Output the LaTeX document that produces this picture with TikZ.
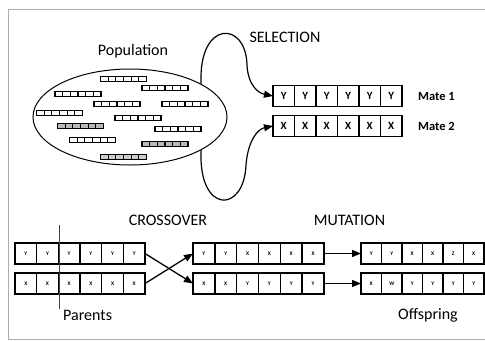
\documentclass[tikz,border=0pt]{standalone}
\usepackage{fontspec}
\setmainfont{Carlito}
\usetikzlibrary{arrows.meta,shapes.geometric}

% one row of gene cells: name, left x, centre y, cell width, cell style, letters
\newcommand\generow[6]{%
  \foreach \t [count=\i] in {#6} {%
    \node[#5, minimum width=#4pt, anchor=west] (#1-\i) at ({#2+(\i-1)*#4}, #3) {\t};
  }}

\begin{document}
\begin{tikzpicture}[x=1pt, y=-1pt,
    frame/.style={draw=gray!65, line width=1pt},
    label/.style={font=\fontsize{16}{18}\selectfont, inner sep=0},
    matelabel/.style={font=\fontsize{12.5}{14}\selectfont\bfseries, inner sep=0},
    cellbase/.style={draw, fill=white, line width=1.4pt, inner sep=0, outer sep=0, minimum height=21pt},
    bigcell/.style={cellbase, font=\fontsize{11}{11}\selectfont\bfseries},
    smallcell/.style={cellbase, font=\fontsize{5.5}{6}\selectfont\bfseries},
    gene/.style={draw, line width=1.7pt, fill=#1, minimum width=46pt, minimum height=5pt,
      inner sep=0, outer sep=0,
      path picture={\foreach \k in {1,...,5}{%
        \draw[line width=1.1pt] ([xshift=\k*7.667pt]path picture bounding box.south west)
          -- ([xshift=\k*7.667pt]path picture bounding box.north west);}}},
    gene/.default=white,
    conn/.style={line width=1.3pt, -{Triangle[length=9pt,width=7pt]}},
    loop/.style={line width=1.2pt, -{Triangle[length=9pt,width=7pt]}},
  ]
\useasboundingbox (0,0) rectangle (485,341);

% outer frame (open on the right)
\draw[frame] (485,9) -- (8,9) -- (8,339) -- (485,339);

% population
\node[label, anchor=base] (poplabel) at (133,55) {Population};
\node[draw, ellipse, line width=1pt, minimum width=194pt, minimum height=96pt, inner sep=0] (pop) at (130,117) {};
\node[gene] (g1) at (123.5,79) {};
\node[gene] (g2) at (165,88) {};
\node[gene] (g3) at (78,94) {};
\node[gene] (g4) at (117,104) {};
\node[gene] (g5) at (185,104) {};
\node[gene] (g6) at (59.5,113) {};
\node[gene] (g7) at (138,118) {};
\node[gene=gray!55] (g8) at (80.5,126) {};
\node[gene] (g9) at (178,129) {};
\node[gene] (g10) at (92.5,140) {};
\node[gene=gray!55] (g11) at (165,144) {};
\node[gene=gray!40] (g12) at (123.5,157) {};

% selection
\node[label, anchor=base] (sellabel) at (285,42.5) {SELECTION};
\generow{m1}{273}{96}{21.5}{bigcell}{Y,Y,Y,Y,Y,Y}
\generow{m2}{273}{126}{21.5}{bigcell}{X,X,X,X,X,X}
\node[matelabel, anchor=base west] (mate1) at (418,100.5) {Mate 1};
\node[matelabel, anchor=base west] (mate2) at (418,130.5) {Mate 2};

\draw[loop] (pop.25) .. controls (198,20) and (246,20) .. (247,65)
  .. controls (248,85) and (258,93) .. (m1-1.west);
\draw[loop] (pop.-25) .. controls (198,214) and (244,214) .. (246,165)
  .. controls (248,140) and (258,129) .. (m2-1.west);

% crossover
\node[label, anchor=base] (xlabel) at (168,225) {CROSSOVER};
\generow{p1}{15}{253.5}{21.67}{smallcell}{Y,Y,Y,Y,Y,Y}
\generow{p2}{15}{283.5}{21.67}{smallcell}{X,X,X,X,X,X}
\coordinate (cuttop) at (59,225);
\coordinate (cutbot) at (59,309);
\draw[line width=1pt, black!75] (cuttop) -- (cutbot);
\node[label, anchor=base west] (parents) at (63,320) {Parents};

\generow{c1}{193}{253.5}{21.83}{smallcell}{Y,Y,X,X,X,X}
\generow{c2}{193}{283.5}{21.83}{smallcell}{X,X,Y,Y,Y,Y}
\draw[conn] (p1-6.east) -- (c2-1.west);
\draw[conn] (p2-6.east) -- (c1-1.west);

% mutation
\node[label, anchor=base] (mlabel) at (349.5,225) {MUTATION};
\generow{o1}{361}{253.5}{20.5}{smallcell}{Y,Y,X,X,Z,X}
\generow{o2}{361}{283.5}{20.5}{smallcell}{X,W,Y,Y,Y,Y}
\draw[conn] (c1-6.east) -- (o1-1.west);
\draw[conn] (c2-6.east) -- (o2-1.west);
\node[label, anchor=base west] (offspring) at (398,319) {Offspring};
\end{tikzpicture}
\end{document}
